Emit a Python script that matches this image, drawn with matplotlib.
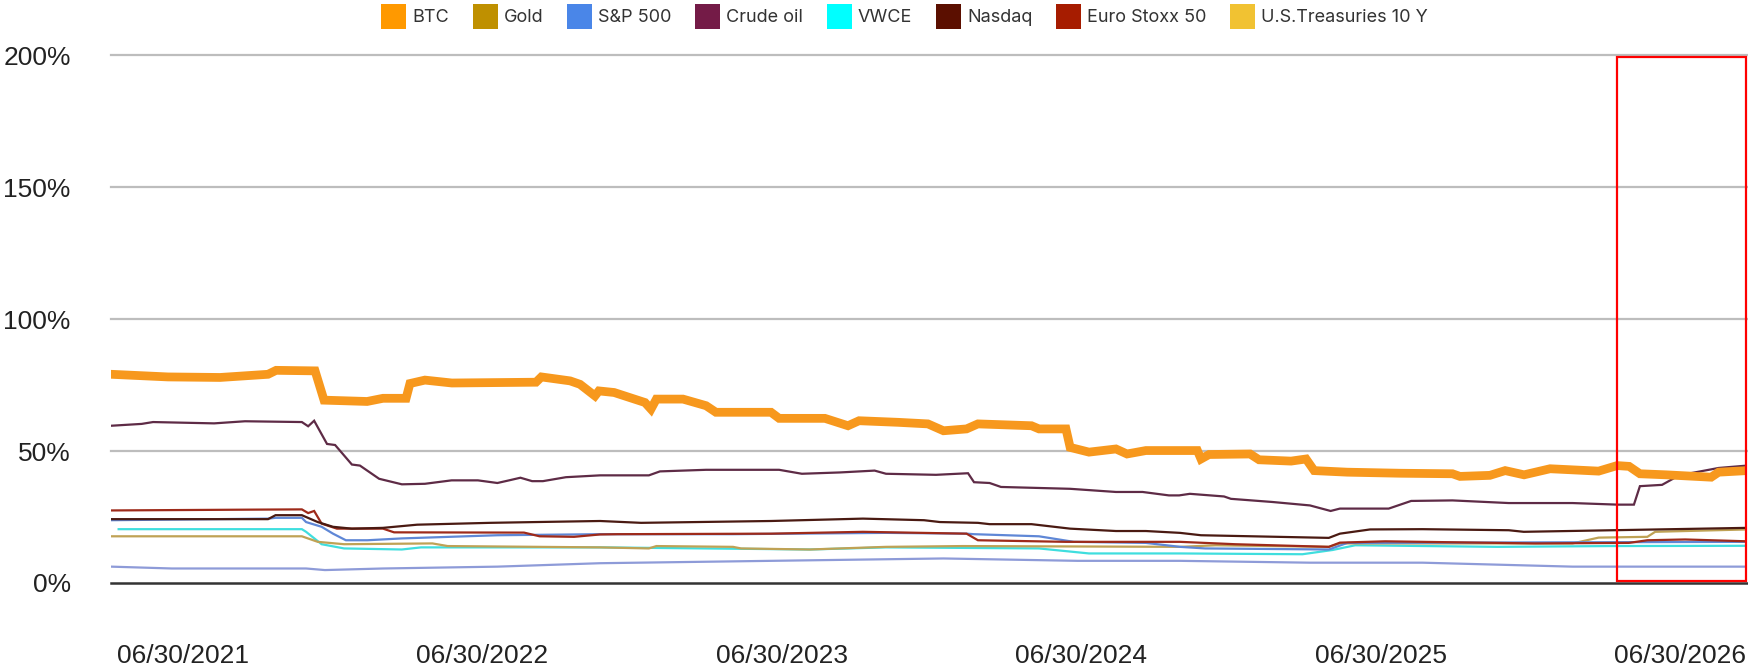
import matplotlib
matplotlib.use("Agg")
import matplotlib.pyplot as plt
from matplotlib.patches import Patch, Rectangle

# ---------------- data (decimal years, percent) ----------------
legend_names = ["BTC", "Gold", "S&P 500", "Crude oil", "VWCE", "Nasdaq",
                "Euro Stoxx 50", "U.S.Treasuries 10 Y"]
legend_colors = ["#FF9900", "#BF9000", "#4A86E8", "#741B47", "#00FFFF",
                 "#5B0F00", "#A61C00", "#F1C232"]

btc_x = [2021.260, 2021.450, 2021.624, 2021.784, 2021.811, 2021.941, 2021.971,
         2022.115, 2022.168, 2022.245, 2022.258, 2022.308, 2022.398, 2022.679,
         2022.697, 2022.793, 2022.826, 2022.876, 2022.889, 2022.940, 2023.043,
         2023.063, 2023.081, 2023.170, 2023.247, 2023.280, 2023.464, 2023.491,
         2023.644, 2023.721, 2023.758, 2023.888, 2023.988, 2024.040, 2024.117,
         2024.155, 2024.334, 2024.359, 2024.449, 2024.463, 2024.526, 2024.616,
         2024.653, 2024.716, 2024.830, 2024.888, 2024.900, 2024.927, 2025.064,
         2025.094, 2025.201, 2025.251, 2025.278, 2025.389, 2025.565, 2025.740,
         2025.765, 2025.865, 2025.916, 2025.979, 2026.066, 2026.228, 2026.290,
         2026.330, 2026.366, 2026.453, 2026.604, 2026.629, 2026.724]
btc_y = [79.1, 78.1, 77.9, 79.1, 80.6, 80.4, 69.3,
         68.8, 70.0, 70.0, 75.6, 76.9, 75.8, 76.1,
         78.1, 76.6, 75.3, 70.9, 72.8, 72.2, 68.4,
         65.9, 69.7, 69.7, 67.2, 64.7, 64.7, 62.4,
         62.4, 59.6, 61.5, 60.9, 60.3, 57.7, 58.4,
         60.3, 59.6, 58.4, 58.4, 51.4, 49.6, 50.8,
         48.9, 50.2, 50.2, 50.2, 47.0, 48.7, 48.9,
         46.7, 46.2, 47.0, 42.6, 42.0, 41.6, 41.4,
         40.4, 40.8, 42.6, 41.0, 43.3, 42.4, 44.5,
         44.2, 41.4, 41.0, 40.1, 42.0, 42.6]

crude_x = [2021.260, 2021.362, 2021.400, 2021.604, 2021.707, 2021.897, 2021.918,
           2021.938, 2021.981, 2022.008, 2022.064, 2022.091, 2022.155, 2022.231,
           2022.308, 2022.397, 2022.485, 2022.550, 2022.589, 2022.627, 2022.666,
           2022.702, 2022.779, 2022.893, 2023.056, 2023.093, 2023.247, 2023.491,
           2023.567, 2023.694, 2023.810, 2023.848, 2024.015, 2024.122, 2024.142,
           2024.194, 2024.232, 2024.463, 2024.616, 2024.705, 2024.793, 2024.827,
           2024.863, 2024.977, 2025.000, 2025.139, 2025.264, 2025.333, 2025.364,
           2025.527, 2025.602, 2025.740, 2025.928, 2026.141, 2026.291, 2026.346,
           2026.366, 2026.440, 2026.497, 2026.629, 2026.724]
crude_y = [59.6, 60.3, 61.0, 60.5, 61.3, 61.0, 59.4,
           61.5, 52.7, 52.3, 44.9, 44.5, 39.5, 37.4,
           37.6, 38.9, 38.9, 37.9, 38.9, 39.9, 38.6,
           38.6, 40.1, 40.8, 40.8, 42.3, 42.9, 42.9,
           41.4, 41.9, 42.6, 41.4, 41.0, 41.6, 38.2,
           37.9, 36.4, 35.7, 34.5, 34.5, 33.2, 33.2,
           33.8, 32.8, 31.9, 30.7, 29.4, 27.3, 28.2,
           28.2, 31.1, 31.3, 30.3, 30.3, 29.7, 29.7,
           36.7, 37.2, 40.8, 43.6, 44.5]

nasdaq_x = [2021.260, 2021.784, 2021.809, 2021.897, 2021.950, 2022.001, 2022.064,
            2022.168, 2022.282, 2022.525, 2022.679, 2022.893, 2023.030, 2023.464,
            2023.771, 2023.975, 2024.028, 2024.155, 2024.194, 2024.334, 2024.463,
            2024.616, 2024.716, 2024.830, 2024.900, 2025.327, 2025.364, 2025.465,
            2025.640, 2025.928, 2025.978, 2026.724]
nasdaq_y = [24.2, 24.2, 25.7, 25.7, 23.1, 21.3, 20.6,
            20.9, 22.1, 22.8, 23.1, 23.5, 22.8, 23.5,
            24.4, 23.8, 23.1, 22.8, 22.3, 22.3, 20.6,
            19.7, 19.7, 19.0, 18.1, 17.1, 18.7, 20.3,
            20.4, 20.0, 19.4, 20.9]

euro_x = [2021.260, 2021.720, 2021.897, 2021.918, 2021.938, 2021.963, 2022.014,
          2022.168, 2022.205, 2022.639, 2022.691, 2022.806, 2022.893, 2022.953,
          2023.464, 2023.771, 2024.117, 2024.155, 2024.449, 2024.830, 2025.014,
          2025.327, 2025.364, 2025.515, 2026.016, 2026.329, 2026.391, 2026.517,
          2026.724]
euro_y = [27.5, 27.8, 27.9, 26.5, 27.3, 22.5, 20.6,
          20.6, 19.2, 19.1, 17.7, 17.5, 18.4, 18.5,
          18.7, 19.4, 18.7, 16.2, 15.6, 15.6, 14.7,
          13.7, 15.3, 15.8, 15.0, 15.2, 16.2, 16.5,
          15.8]

sp500_x = [2021.260, 2021.784, 2021.809, 2021.897, 2021.911, 2021.963, 2022.001,
           2022.044, 2022.116, 2022.231, 2022.550, 2022.893, 2023.337, 2023.848,
           2024.117, 2024.142, 2024.359, 2024.475, 2024.716, 2024.830, 2024.914,
           2025.327, 2025.389, 2026.724]
sp500_y = [23.8, 24.4, 24.7, 24.7, 23.1, 21.3, 18.7,
           16.2, 16.2, 16.9, 18.1, 18.5, 18.5, 19.0,
           18.7, 18.5, 17.7, 15.6, 15.2, 13.7, 13.1,
           12.7, 15.2, 15.6]

gold_x = [2021.260, 2021.897, 2021.950, 2022.038, 2022.333, 2022.384, 2022.893,
          2023.056, 2023.081, 2023.337, 2023.364, 2023.593, 2023.848, 2024.104,
          2024.830, 2024.950, 2025.327, 2025.364, 2026.141, 2026.228, 2026.391,
          2026.417, 2026.724]
gold_y = [17.7, 17.7, 15.6, 14.7, 15.0, 14.0, 13.5,
          13.1, 14.0, 13.7, 13.1, 12.7, 13.7, 14.0,
          13.7, 14.3, 13.7, 15.0, 15.0, 17.2, 17.5,
          19.4, 20.3]

vwce_x = [2021.285, 2021.897, 2021.911, 2021.963, 2022.038, 2022.231, 2022.295,
          2022.893, 2023.593, 2023.848, 2024.359, 2024.526, 2024.830, 2025.239,
          2025.339, 2025.415, 2025.890, 2026.266, 2026.724]
vwce_y = [20.4, 20.4, 19.4, 14.7, 13.1, 12.7, 13.5,
          13.5, 12.7, 13.5, 13.1, 11.2, 11.2, 10.9,
          12.5, 14.3, 13.7, 14.0, 14.1]

treas_x = [2021.260, 2021.463, 2021.911, 2021.974, 2022.168, 2022.550, 2022.893,
           2023.464, 2024.040, 2024.488, 2024.830, 2025.264, 2025.640, 2026.141,
           2026.724]
treas_y = [6.2, 5.5, 5.5, 4.9, 5.5, 6.2, 7.5,
           8.4, 9.3, 8.4, 8.4, 7.7, 7.7, 6.2,
           6.2]

tick_years = [2021.5, 2022.5, 2023.5, 2024.5, 2025.5, 2026.5]
tick_labels = ["06/30/2021", "06/30/2022", "06/30/2023", "06/30/2024",
               "06/30/2025", "06/30/2026"]
y_ticks = [0, 50, 100, 150, 200]

highlight_start = 2026.290

# ---------------- figure ----------------
W, H = 1748, 667
fig = plt.figure(figsize=(W / 100, H / 100), dpi=100)
ax = fig.add_axes([111 / W, 1 - 583 / H, (1747 - 111) / W, (583 - 55.3) / H])

x_left, x_right = 2021.2595, 2026.7237
ax.set_xlim(x_left, x_right)
ax.set_ylim(0, 200)

for s in ["top", "right", "left"]:
    ax.spines[s].set_visible(False)
ax.spines["bottom"].set_color("#333333")
ax.spines["bottom"].set_linewidth(1.8)

ax.set_yticks(y_ticks)
ax.set_yticklabels([f"{v}%" for v in y_ticks])
ax.set_xticks(tick_years)
ax.set_xticklabels(tick_labels)
ax.tick_params(axis="both", length=0, labelsize=19, labelcolor="#222222")
ax.tick_params(axis="y", pad=29)
ax.tick_params(axis="x", pad=44)
for lab in ax.get_xticklabels() + ax.get_yticklabels():
    lab.set_fontfamily("Liberation Sans")

for g in [50, 100, 150, 200]:
    ax.axhline(g, color="#BDBDBD", lw=1.6, zorder=0, clip_on=False)

# thin series
thin = [
    (treas_x, treas_y, "#8E9BD8"),
    (vwce_x, vwce_y, "#3FDEDE"),
    (gold_x, gold_y, "#BFA255"),
    (sp500_x, sp500_y, "#5F87D6"),
    (euro_x, euro_y, "#9E2A1A"),
    (nasdaq_x, nasdaq_y, "#4A1A12"),
    (crude_x, crude_y, "#5E2B46"),
]
for xs, ys, c in thin:
    ax.plot(xs, ys, color=c, lw=1.6, zorder=3, solid_joinstyle="miter")

ax.plot(btc_x, btc_y, color="#F7981D", lw=6.3, zorder=4, solid_joinstyle="miter")

# highlight rectangle
rect = Rectangle((highlight_start, 0.6), x_right - highlight_start - 0.002, 198.6,
                 fill=False, edgecolor="#FF0000", lw=1.6, zorder=5, clip_on=False)
ax.add_patch(rect)

# legend (fitted to the reference extent: squares 25px, spanning x 381..1428, top at y=4)
handles = [Patch(facecolor=c, edgecolor="none") for c in legend_colors]
fs = 13.0
fs_px = fs * 100 / 72
sq = 25.0
hh = (sq / fs_px - 0.245) / 0.65


def make_leg(cs, anchor):
    lg = fig.legend(handles, legend_names, ncol=8, loc="upper left",
                    bbox_to_anchor=anchor, frameon=False,
                    prop={"family": "Inter", "size": fs},
                    handlelength=sq / fs_px, handleheight=hh,
                    handletextpad=6 / fs_px, columnspacing=cs,
                    borderpad=0.0, borderaxespad=0.0)
    for t in lg.get_texts():
        t.set_color("#333333")
    return lg


cs0 = 1.0
leg = make_leg(cs0, (0.2, 1.0))
fig.canvas.draw()
r = fig.canvas.get_renderer()
w0 = leg.get_window_extent(r).width
cs1 = max(0.3, cs0 + (1428 - 381 - w0) / (7 * fs_px))
leg.remove()
leg = make_leg(cs1, (0.2, 1.0))
fig.canvas.draw()
hb = leg.legend_handles[0].get_window_extent(r)
dx = 381 - hb.x0
dy = (H - 4) - hb.y1
leg.set_bbox_to_anchor((0.2 + dx / W, 1.0 + dy / H), transform=fig.transFigure)

fig.savefig("out.png", dpi=100, facecolor="white")
